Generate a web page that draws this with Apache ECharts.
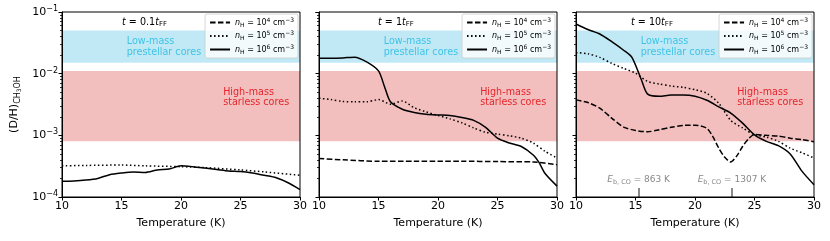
<!DOCTYPE html>
<html><head><meta charset="utf-8">
<script src="https://cdn.jsdelivr.net/npm/echarts@6/dist/echarts.min.js"></script>
<style>html,body{margin:0;padding:0;background:#fff}#c{width:830px;height:241px}</style>
</head><body><div id="c"></div>
<script>
// ---- data ----
const xTicks = [10, 15, 20, 25, 30];
const yTicks = [1e-4, 1e-3, 1e-2, 1e-1];
const panelTitles = ['0.1', '1', '10'];
const seriesNames = ['nH4', 'nH5', 'nH6'];
const densityExp = ['4', '5', '6'];

// Panel 1 (t = 0.1 tFF)
const p1DashT = [];
const p1DashV = [];
const p1DotT = [10, 12, 15, 17, 20, 22, 25, 27, 30];
const p1DotV = [3.2e-4, 3.25e-4, 3.3e-4, 3.2e-4, 3.1e-4, 3.0e-4, 2.75e-4, 2.55e-4, 2.25e-4];
const p1SolT = [10, 11, 12, 13, 14, 15, 16, 17, 18, 19, 20, 21, 22, 23, 24, 25, 26, 27, 28, 29, 30];
const p1SolV = [1.8e-4, 1.82e-4, 1.88e-4, 2.0e-4, 2.3e-4, 2.45e-4, 2.55e-4, 2.5e-4, 2.75e-4, 2.85e-4, 3.2e-4, 3.1e-4, 2.95e-4, 2.8e-4, 2.65e-4, 2.6e-4, 2.45e-4, 2.25e-4, 2.05e-4, 1.7e-4, 1.32e-4];

// Panel 2 (t = 1 tFF)
const p2DashT = [10, 12, 15, 18, 20, 22, 25, 28, 30];
const p2DashV = [4.2e-4, 4.0e-4, 3.8e-4, 3.8e-4, 3.8e-4, 3.8e-4, 3.75e-4, 3.7e-4, 3.35e-4];
const p2DotT = [10, 11, 12, 13, 14, 15, 16, 17, 18, 19, 20, 21, 22, 23, 24, 25, 26, 27, 28, 29, 30];
const p2DotV = [4.0e-3, 3.8e-3, 3.55e-3, 3.5e-3, 3.5e-3, 3.8e-3, 3.2e-3, 3.6e-3, 2.8e-3, 2.4e-3, 2.1e-3, 1.85e-3, 1.6e-3, 1.32e-3, 1.12e-3, 1.05e-3, 9.8e-4, 9.0e-4, 7.5e-4, 5.5e-4, 4.3e-4];
const p2SolT = [10, 11, 12, 13, 14, 15, 15.5, 16, 17, 18, 19, 20, 21, 22, 23, 24, 25, 26, 27, 28, 28.5, 29, 30];
const p2SolV = [1.78e-2, 1.78e-2, 1.8e-2, 1.85e-2, 1.55e-2, 1.11e-2, 6.2e-3, 3.5e-3, 2.65e-3, 2.35e-3, 2.2e-3, 2.14e-3, 2.1e-3, 1.95e-3, 1.75e-3, 1.35e-3, 9.0e-4, 7.5e-4, 6.6e-4, 4.8e-4, 3.6e-4, 2.4e-4, 1.5e-4];

// Panel 3 (t = 10 tFF)
const p3DashT = [10, 11, 12, 13, 14, 15, 16, 17, 18, 19, 20, 21, 21.5, 22, 22.5, 23, 23.5, 24, 24.5, 25, 26, 27, 28, 29, 30];
const p3DashV = [3.76e-3, 3.4e-3, 2.76e-3, 1.9e-3, 1.36e-3, 1.2e-3, 1.14e-3, 1.23e-3, 1.35e-3, 1.45e-3, 1.46e-3, 1.3e-3, 9.5e-4, 6.2e-4, 4.4e-4, 3.7e-4, 4.6e-4, 6.6e-4, 8.8e-4, 1.03e-3, 1.0e-3, 9.7e-4, 9.0e-4, 8.5e-4, 7.9e-4];
const p3DotT = [10, 11, 12, 13, 14, 15, 16, 17, 18, 19, 20, 21, 22, 23, 24, 25, 26, 27, 28, 29, 30];
const p3DotV = [2.2e-2, 2.1e-2, 1.84e-2, 1.47e-2, 1.22e-2, 1.02e-2, 7.5e-3, 6.8e-3, 6.3e-3, 6.0e-3, 5.5e-3, 4.8e-3, 3.3e-3, 1.75e-3, 1.32e-3, 1.02e-3, 9.4e-4, 8.0e-4, 6.2e-4, 5.2e-4, 4.3e-4];
const p3SolT = [10, 11, 12, 13, 14, 14.7, 15.5, 16, 17, 18, 19, 20, 21, 22, 23, 24, 25, 26, 27, 28, 29, 30];
const p3SolV = [6.4e-2, 5.2e-2, 4.4e-2, 3.3e-2, 2.4e-2, 1.84e-2, 7.9e-3, 4.7e-3, 4.3e-3, 4.5e-3, 4.5e-3, 4.3e-3, 3.7e-3, 2.9e-3, 2.3e-3, 1.58e-3, 1.02e-3, 8.0e-4, 6.8e-4, 5.0e-4, 2.6e-4, 1.58e-4];

// Observed ranges (bands)
const lowMassBand = [1.5e-2, 5.0e-2];
const highMassBand = [8.0e-4, 1.1e-2];
const lowMassLabelPos = [15.4, 2.7e-2];
const highMassLabelPos = [23.5, 4.1e-3];

// CO binding energy markers
const ebTemps = [15.26, 23.1];
const ebValues = ['863', '1307'];
const ebMarkRange = [1e-4, 1.4e-4];

// ---- chart ----
const FONT = 'DejaVu Sans';
const panels = [
  {dash: [p1DashT, p1DashV], dot: [p1DotT, p1DotV], sol: [p1SolT, p1SolV]},
  {dash: [p2DashT, p2DashV], dot: [p2DotT, p2DotV], sol: [p2SolT, p2SolV]},
  {dash: [p3DashT, p3DashV], dot: [p3DotT, p3DotV], sol: [p3SolT, p3SolV]}
];
const gridLefts = [62, 319, 576];
const legendRights = [532, 275, 18];
const W = 238, TOP = 12, H = 185;

const minorVals = [];
for (let e = -4; e < -1; e++) for (let k = 2; k <= 9; k++) minorVals.push(k * Math.pow(10, e));

function pairs(t, v) { return t.map((x, i) => [x, v[i]]); }

const grids = [], xAxes = [], yAxes = [], series = [], legends = [], titles = [];
panels.forEach((p, i) => {
  grids.push({left: gridLefts[i], top: TOP, width: W, height: H, show: true, borderColor: '#000', borderWidth: 1, backgroundColor: 'transparent', z: 10});
  xAxes.push({
    type: 'value', gridIndex: i, min: 10, max: 30, interval: 5,
    name: 'Temperature (K)', nameLocation: 'middle', nameGap: 21,
    nameTextStyle: {fontFamily: FONT, fontSize: 11, color: '#000'},
    axisLine: {show: true, onZero: false, lineStyle: {color: '#000', width: 1}},
    axisTick: {show: true, length: 3.5, lineStyle: {color: '#000'}},
    axisLabel: {fontFamily: FONT, fontSize: 11, color: '#000', margin: 4},
    splitLine: {show: false}, z: 10
  });
  yAxes.push({
    type: 'log', logBase: 10, gridIndex: i, min: 1e-4, max: 1e-1, position: 'left',
    name: i === 0 ? '(D/H){s|CH}{ss|3}{s|OH}' : '', nameLocation: 'middle', nameGap: 40, nameRotate: 90,
    nameTextStyle: {fontFamily: FONT, fontSize: 11, color: '#000', lineHeight: 16,
      rich: {s: {fontFamily: FONT, fontSize: 8, verticalAlign: 'bottom', lineHeight: 12}, ss: {fontFamily: FONT, fontSize: 6, verticalAlign: 'bottom', lineHeight: 10}}},
    axisLine: {show: true, lineStyle: {color: '#000', width: 1}},
    axisTick: {show: true, length: 3.5, lineStyle: {color: '#000'}},
    axisLabel: {show: i === 0, fontFamily: FONT, fontSize: 11, color: '#000', margin: 4,
      formatter: v => '10{p|−' + Math.round(-Math.log10(v)) + '}',
      rich: {p: {fontFamily: FONT, fontSize: 8, verticalAlign: 'top', lineHeight: 14}}},
    splitLine: {show: false}, z: 10
  });
  yAxes.push({
    type: 'log', logBase: 10, gridIndex: i, min: 1e-4, max: 1e-1, position: 'left', offset: 0,
    axisLine: {show: false},
    axisTick: {show: true, length: 2, customValues: minorVals, lineStyle: {color: '#000', width: 0.8}},
    axisLabel: {show: false}, splitLine: {show: false}
  });
  const yi = i * 2;
  const common = {xAxisIndex: i, yAxisIndex: yi, showSymbol: false, symbol: 'none', smooth: 0.25, silent: true, clip: true, color: '#000'};
  const dashS = Object.assign({}, common, {name: seriesNames[0], type: 'line', data: pairs(p.dash[0], p.dash[1]), lineStyle: {color: '#000', width: 1.5, type: [5.5, 2.4]}, z: 5});
  const dotS = Object.assign({}, common, {name: seriesNames[1], type: 'line', data: pairs(p.dot[0], p.dot[1]), lineStyle: {color: '#000', width: 1.5, type: [1.5, 2.5]}, z: 5});
  const solS = Object.assign({}, common, {name: seriesNames[2], type: 'line', data: pairs(p.sol[0], p.sol[1]), lineStyle: {color: '#000', width: 1.5, type: 'solid'}, z: 5});
  solS.markArea = {
    silent: true,
    data: [
      [{yAxis: lowMassBand[1], itemStyle: {color: 'rgba(135,213,235,0.52)'}}, {yAxis: lowMassBand[0]}],
      [{yAxis: highMassBand[1], itemStyle: {color: 'rgba(230,120,120,0.48)'}}, {yAxis: highMassBand[0]}]
    ]
  };
  solS.markPoint = {
    silent: true, symbol: 'circle', symbolSize: 1,
    itemStyle: {color: 'rgba(0,0,0,0)'},
    data: [
      {coord: lowMassLabelPos, label: {show: true, position: 'right', distance: 0, formatter: 'Low-mass\nprestellar cores', align: 'left', verticalAlign: 'middle', fontFamily: FONT, fontSize: 9.6, lineHeight: 10.5, color: '#3fc3e6'}},
      {coord: highMassLabelPos, label: {show: true, position: 'right', distance: 0, formatter: 'High-mass\nstarless cores', align: 'left', verticalAlign: 'middle', fontFamily: FONT, fontSize: 9.6, lineHeight: 10.5, color: '#e5262b'}}
    ]
  };
  if (i === 2) {
    dashS.markLine = {
      silent: true, symbol: ['none', 'none'], animation: false,
      lineStyle: {color: '#8a8a8a', width: 2, type: 'solid'},
      data: ebTemps.map((t, k) => [
        {coord: [t, ebMarkRange[0]]},
        {coord: [t, ebMarkRange[1]], label: {show: true, position: 'end', distance: 2, fontFamily: FONT, fontSize: 9, color: '#8a8a8a',
          formatter: '{i|E}{s|b, CO} = ' + ebValues[k] + ' K',
          rich: {i: {fontStyle: 'italic', fontFamily: FONT, fontSize: 9, color: '#8a8a8a'}, s: {fontFamily: FONT, fontSize: 6.5, color: '#8a8a8a', verticalAlign: 'bottom', lineHeight: 12}}}}
      ])
    };
  }
  series.push(dashS, dotS, solS);
  legends.push({
    orient: 'vertical', right: legendRights[i], top: 14,
    data: seriesNames, itemWidth: 20, itemHeight: 8, itemGap: 2.5,
    padding: [3, 4, 3, 4], borderColor: '#cccccc', borderWidth: 0.8, borderRadius: 2,
    backgroundColor: 'rgba(255,255,255,0.8)', selectedMode: false, inactiveColor: '#000',
    align: 'left',
    itemStyle: {color: 'rgba(0,0,0,0)', borderWidth: 0, opacity: 0},
    formatter: name => '{i|n}{s|H} = 10{p|' + densityExp[seriesNames.indexOf(name)] + '} cm{p|−3}',
    textStyle: {fontFamily: FONT, fontSize: 8, color: '#000', lineHeight: 11,
      rich: {i: {fontStyle: 'italic', fontFamily: FONT, fontSize: 8}, s: {fontFamily: FONT, fontSize: 6, verticalAlign: 'bottom', lineHeight: 10}, p: {fontFamily: FONT, fontSize: 6, verticalAlign: 'top', lineHeight: 11}}},
    z: 20
  });
  titles.push({
    text: '{i|t} = ' + panelTitles[i] + '{i|t}{s|FF}',
    left: gridLefts[i] + [60, 59, 55][i], top: 16,
    textStyle: {fontFamily: FONT, fontSize: 9.6, fontWeight: 'normal', color: '#000', lineHeight: 12,
      rich: {i: {fontStyle: 'italic', fontFamily: FONT, fontSize: 9.6, color: '#000'}, s: {fontFamily: FONT, fontSize: 7, color: '#000', verticalAlign: 'bottom', lineHeight: 12}}},
    padding: 0, z: 20
  });
});

const chart = echarts.init(document.getElementById('c'), null, {renderer: 'canvas'});
chart.setOption({
  animation: false,
  title: titles,
  legend: legends,
  grid: grids,
  xAxis: xAxes,
  yAxis: yAxes,
  series: series
});
</script></body></html>
